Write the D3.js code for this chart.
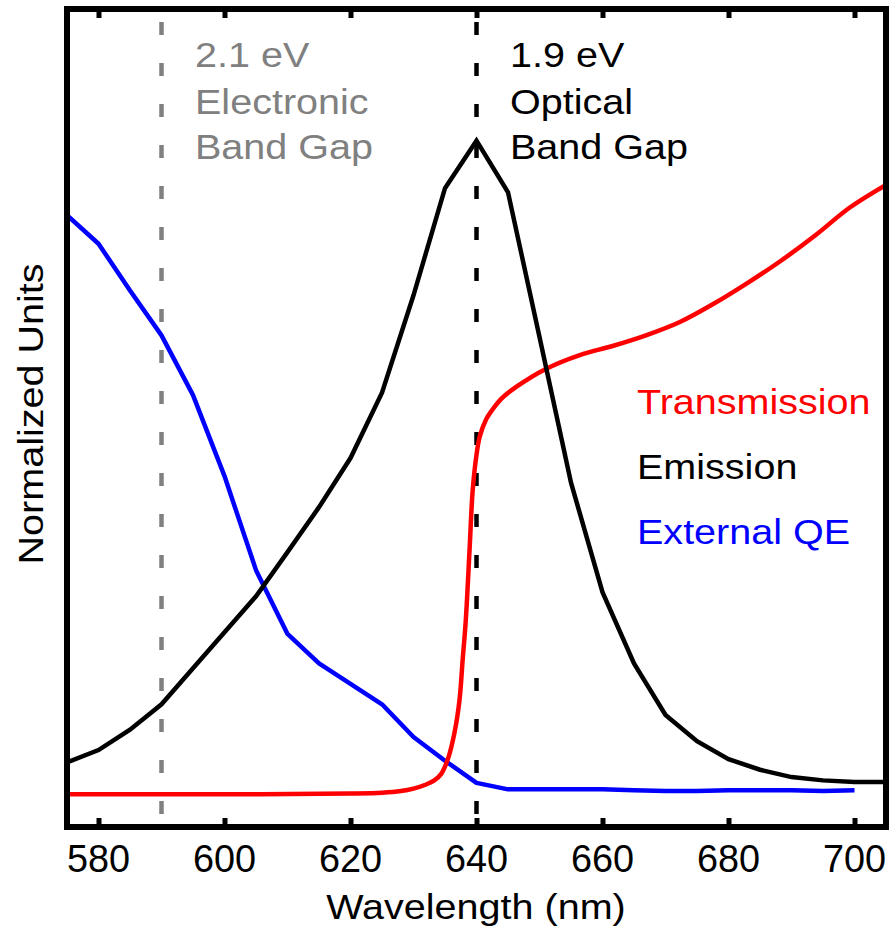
<!DOCTYPE html>
<html>
<head>
<meta charset="utf-8">
<script src="https://cdn.jsdelivr.net/npm/d3@7"></script>
<style>
  body { margin: 0; background: #fff; }
  text { font-family: "Liberation Sans", Arial, Helvetica, sans-serif; }
</style>
</head>
<body>
<script>
// wavelength grid (nm) for emission and QE
var gridNm = [575, 580, 585, 590, 595, 600, 605, 610, 615, 620, 625, 630, 635, 640,
              645, 650, 655, 660, 665, 670, 675, 680, 685, 690, 695, 700, 705];

// emission (normalized)
var emission = [0.079, 0.094, 0.119, 0.150, 0.194, 0.238, 0.282, 0.336, 0.391, 0.451, 0.531, 0.650, 0.781, 0.839,
                0.776, 0.599, 0.421, 0.287, 0.200, 0.137, 0.105, 0.083, 0.070, 0.061, 0.057, 0.055, 0.055];

// external QE (normalized), stops at 700 nm
var qeNm = gridNm.slice(0, 26);
var externalQE = [0.748, 0.713, 0.656, 0.601, 0.528, 0.429, 0.314, 0.236, 0.200, 0.175, 0.150, 0.110, 0.081, 0.054,
                  0.046, 0.046, 0.046, 0.046, 0.045, 0.044, 0.044, 0.045, 0.045, 0.045, 0.044, 0.045];

// transmission, sampled denser around the edge
var transNm = [575, 600, 620, 625, 628, 630, 632, 633.3, 634.4, 635.5, 636.5, 637.3, 637.8, 638.3, 638.9, 639.4, 640,
               640.5, 641.5, 642.6, 644, 646.3, 651, 656.4, 661.6, 666.9, 672.2, 677.5, 682.8, 688.1, 693.9, 699.2, 705];
var transmission = [0.040, 0.040, 0.041, 0.042, 0.044, 0.047, 0.052, 0.057, 0.065, 0.084, 0.115, 0.155, 0.204, 0.253, 0.339, 0.412, 0.455,
                    0.477, 0.498, 0.511, 0.524, 0.538, 0.560, 0.577, 0.588, 0.601, 0.617, 0.639, 0.664, 0.691, 0.724, 0.757, 0.785];

var xTicks = [580, 600, 620, 640, 660, 680, 700];
var bandGaps = [
  {nm: 590, color: "#808080", lines: ["2.1 eV", "Electronic", "Band Gap"], tx: 195},
  {nm: 640, color: "#000000", lines: ["1.9 eV", "Optical", "Band Gap"], tx: 510}
];
var legendNames = ["Transmission", "Emission", "External QE"];
var legendColors = ["#ff0000", "#000000", "#0000ff"];

var W = 894, H = 930;
var pLeft = 67, pRight = 886, pTop = 9, pBottom = 827;
var stretch = 1.13;

var svg = d3.select("body").append("svg")
    .attr("width", W)
    .attr("height", H);

var x = d3.scaleLinear().domain([575, 705]).range([pLeft, pRight]);
var y = d3.scaleLinear().domain([0, 1]).range([pBottom, pTop]);

svg.append("clipPath").attr("id", "clip")
  .append("rect")
    .attr("x", pLeft).attr("y", pTop)
    .attr("width", pRight - pLeft).attr("height", pBottom - pTop);

// dashed band gap markers
svg.selectAll("line.gap")
    .data(bandGaps)
  .enter().append("line")
    .attr("class", "gap")
    .attr("x1", function(d) { return x(d.nm); })
    .attr("x2", function(d) { return x(d.nm); })
    .attr("y1", y(0.984))
    .attr("y2", y(0.0147))
    .attr("stroke", function(d) { return d.color; })
    .attr("stroke-width", 4.5)
    .attr("stroke-dasharray", "13,28");

var line = d3.line()
    .x(function(d) { return x(d[0]); })
    .y(function(d) { return y(d[1]); });

var plot = svg.append("g").attr("clip-path", "url(#clip)");

plot.append("path")
    .datum(d3.zip(qeNm, externalQE))
    .attr("d", line)
    .attr("fill", "none")
    .attr("stroke", "#0000ff")
    .attr("stroke-width", 4.5)
    .attr("stroke-linejoin", "round");

plot.append("path")
    .datum(d3.zip(transNm, transmission))
    .attr("d", line.curve(d3.curveCatmullRom.alpha(0.5)))
    .attr("fill", "none")
    .attr("stroke", "#ff0000")
    .attr("stroke-width", 4.5)
    .attr("stroke-linejoin", "round");

line.curve(d3.curveLinear);

plot.append("path")
    .datum(d3.zip(gridNm, emission))
    .attr("d", line)
    .attr("fill", "none")
    .attr("stroke", "#000000")
    .attr("stroke-width", 4.5)
    .attr("stroke-linejoin", "miter");

// axes: inward ticks on bottom and top
svg.append("g")
    .attr("transform", "translate(0," + pBottom + ")")
    .call(d3.axisBottom(x).tickValues(xTicks).tickSize(-9).tickFormat(""));
svg.append("g")
    .attr("transform", "translate(0," + pTop + ")")
    .call(d3.axisTop(x).tickValues(xTicks).tickSize(-9).tickFormat(""));
svg.selectAll(".domain").remove();
svg.selectAll(".tick line").attr("stroke", "#000").attr("stroke-width", 5);

// frame
svg.append("rect")
    .attr("x", pLeft).attr("y", pTop)
    .attr("width", pRight - pLeft).attr("height", pBottom - pTop)
    .attr("fill", "none")
    .attr("stroke", "#000")
    .attr("stroke-width", 6);

// tick labels
svg.selectAll("text.tl")
    .data(xTicks)
  .enter().append("text")
    .attr("class", "tl")
    .attr("transform", function(d) { return "translate(" + x(d) + ",872) scale(0.97,1)"; })
    .attr("text-anchor", "middle")
    .attr("font-size", 39)
    .text(function(d) { return d; });

// axis titles
svg.append("text")
    .attr("transform", "translate(476,919) scale(" + stretch + ",1)")
    .attr("text-anchor", "middle")
    .attr("font-size", 35)
    .text("Wavelength (nm)");

svg.append("text")
    .attr("transform", "translate(43,414) rotate(-90) scale(" + stretch + ",1)")
    .attr("text-anchor", "middle")
    .attr("font-size", 35)
    .text("Normalized Units");

// band gap annotations
var lineBase = [67, 114, 159];
bandGaps.forEach(function(g) {
  g.lines.forEach(function(t, i) {
    svg.append("text")
      .attr("transform", "translate(" + g.tx + "," + lineBase[i] + ") scale(" + stretch + ",1)")
      .attr("font-size", 35)
      .attr("fill", g.color)
      .text(t);
  });
});

// legend
svg.selectAll("text.leg")
    .data(legendNames)
  .enter().append("text")
    .attr("class", "leg")
    .attr("transform", function(d, i) { return "translate(637," + (414 + i * 65) + ") scale(" + stretch + ",1)"; })
    .attr("font-size", 35)
    .attr("fill", function(d, i) { return legendColors[i]; })
    .text(function(d) { return d; });
</script>
</body>
</html>
